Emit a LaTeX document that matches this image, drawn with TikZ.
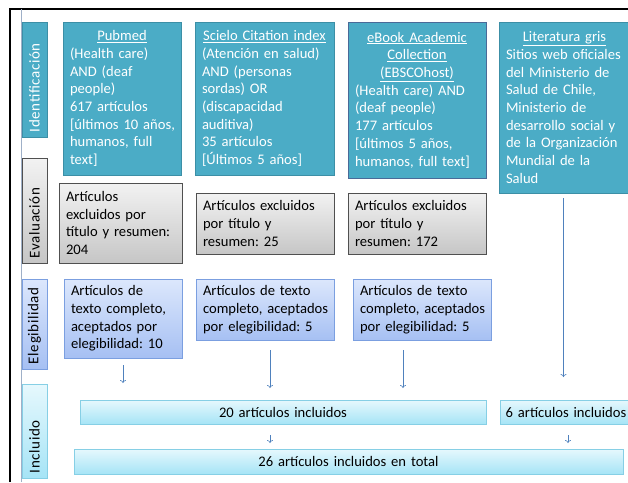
\documentclass[tikz,border=0pt]{standalone}
\usepackage{fontspec}
\setmainfont{Carlito}
\newfontfamily\sidefont[LetterSpace=4]{Carlito}
\setlength\parindent{0pt}
\frenchspacing
\usetikzlibrary{arrows.meta}

\definecolor{aqua}{HTML}{4BACC6}
\definecolor{aquaedge}{HTML}{3C8FA6}
\definecolor{navyedge}{HTML}{4A6A98}
\definecolor{greytop}{HTML}{F2F2F2}
\definecolor{greybot}{HTML}{C6C6C6}
\definecolor{greyedge}{HTML}{505050}
\definecolor{eletop}{HTML}{DCE7FC}
\definecolor{elebot}{HTML}{A6C0F3}
\definecolor{eleedge}{HTML}{7B9FE0}
\definecolor{inctop}{HTML}{E6F8FD}
\definecolor{incbot}{HTML}{A6E4F6}
\definecolor{incedge}{HTML}{86CFE5}
\definecolor{arrowblue}{HTML}{4F81BD}
\definecolor{frameline}{HTML}{9FB0C8}

\tikzset{
	box/.style={rectangle,draw,anchor=north west,outer sep=0pt,inner xsep=2pt,inner ysep=2pt,align=left,
		execute at begin node={\leftskip=5pt\relax}},
	srcbox/.style={box,fill=aqua,draw=aquaedge,text=white},
	excbox/.style={box,draw=greyedge,top color=greytop,bottom color=greybot},
	elebox/.style={box,draw=eleedge,top color=eletop,bottom color=elebot},
	incbox/.style={rectangle,draw=incedge,anchor=north west,outer sep=0pt,inner xsep=2pt,top color=inctop,bottom color=incbot,align=center},
	sidebox/.style={rectangle,draw,rotate=90,outer sep=0pt,minimum height=25pt,inner xsep=5pt,align=left,font=\sidefont\fontsize{15}{17}\selectfont},
	arr/.style={draw=arrowblue,semithick,-{To[length=3pt,width=6pt]}}
}

\begin{document}
\begin{tikzpicture}[x=1pt,y=-1pt,font=\fontsize{14.6}{17.7}\selectfont]
	\useasboundingbox (0,0) rectangle (628,482);
	% frame
	\draw[line width=2.5pt] (10,482) -- (10,9) -- (628,9);
	\draw[frameline,thin] (21,9) -- (21,482);
	% stages
	\begin{scope}
	\node[sidebox,fill=aqua,draw=aquaedge,text=white,text width=105pt] (ident) at (34.5,79.5) {Identificación};
	\node[sidebox,draw=greyedge,top color=greytop,bottom color=greybot,text width=95pt] (evalu) at (34.5,210.5) {Evaluación};
	\node[sidebox,draw=eleedge,top color=eletop,bottom color=elebot,text width=80pt] (elegi) at (34.5,324) {Elegibilidad};
	\node[sidebox,draw=incedge,top color=inctop,bottom color=incbot,text width=84pt] (inclu) at (34.5,431) {Incluido};
	\end{scope}
	% sources
	\begin{scope}
	\node[srcbox,text width=114pt,minimum height=153pt] (pubmed) at (63,22) {{\centering\underline{Pubmed}\par}(Health care)\\AND (deaf\\people)\\617 artículos\\{}[últimos 10 años,\\humanos, full\\text]};
	\node[srcbox,text width=135pt,minimum height=153pt] (scielo) at (195,22) {{\centering\underline{Scielo Citation index}\par}(Atención en salud)\\AND (personas\\sordas) OR\\(discapacidad\\auditiva)\\35 artículos\\{}[Últimos 5 años]};
	\node[srcbox,draw=navyedge,text width=134pt,minimum height=156pt] (ebook) at (348,22) {{\centering\underline{eBook Academic}\\\underline{Collection}\\\underline{(EBSCOhost)}\par}(Health care) AND\\(deaf people)\\177 artículos\\{}[últimos 5 años,\\humanos, full text]};
	\node[srcbox,text width=127pt,minimum height=171pt] (gris) at (499,22) {{\centering\underline{Literatura gris}\par}Sitios web oficiales\\del Ministerio de\\Salud de Chile,\\Ministerio de\\desarrollo social y\\de la Organización\\Mundial de la\\Salud};
	\end{scope}
	% excluded
	\node[excbox,text width=119pt,minimum height=80pt] (exc1) at (59,183) {Artículos\\excluidos por\\título y resumen:\\204};
	\node[excbox,text width=134pt,minimum height=61pt] (exc2) at (196,193) {Artículos excluidos\\por título y\\resumen: 25};
	\node[excbox,text width=134pt,minimum height=61pt] (exc3) at (348,193) {Artículos excluidos\\por título y\\resumen: 172};
	% eligible
	\node[elebox,text width=114pt,minimum height=79pt] (ele1) at (64,279) {Artículos de\\texto completo,\\aceptados por\\elegibilidad: 10};
	\node[elebox,text width=134pt,minimum height=61pt] (ele2) at (196,279) {Artículos de texto\\completo, aceptados\\por elegibilidad: 5};
	\node[elebox,text width=134pt,minimum height=61pt] (ele3) at (353,279) {Artículos de texto\\completo, aceptados\\por elegibilidad: 5};
	% included
	\node[incbox,text width=402pt,minimum height=24pt] (inc20) at (80,400) {20 artículos incluidos};
	\node[incbox,text width=128pt,minimum height=24pt] (inc6) at (500,400) {6 artículos incluidos};
	\node[incbox,text width=545pt,minimum height=25pt] (total) at (74,449) {26 artículos incluidos en total};
	% arrows
	\draw[arr,shorten <=7pt,shorten >=17pt] (ele1.south) -- (ele1.south |- inc20.north);
	\draw[arr,shorten <=10pt,shorten >=12pt] ([xshift=5pt]ele2.south) -- ([xshift=5pt]ele2.south |- inc20.north);
	\draw[arr,shorten <=10pt,shorten >=12pt] ([xshift=-19pt]ele3.south) -- ([xshift=-19pt]ele3.south |- inc20.north);
	\draw[arr,shorten <=5pt,shorten >=23pt] ([xshift=-1pt]gris.south) -- ([xshift=-1pt]gris.south |- inc6.north);
	\draw[arr,shorten <=11pt,shorten >=6pt] ([xshift=-13pt]inc20.south) -- ([xshift=-13pt]inc20.south |- total.north);
	\draw[arr,shorten <=11pt,shorten >=6pt] ([xshift=2pt]inc6.south) -- ([xshift=2pt]inc6.south |- total.north);
\end{tikzpicture}
\end{document}
